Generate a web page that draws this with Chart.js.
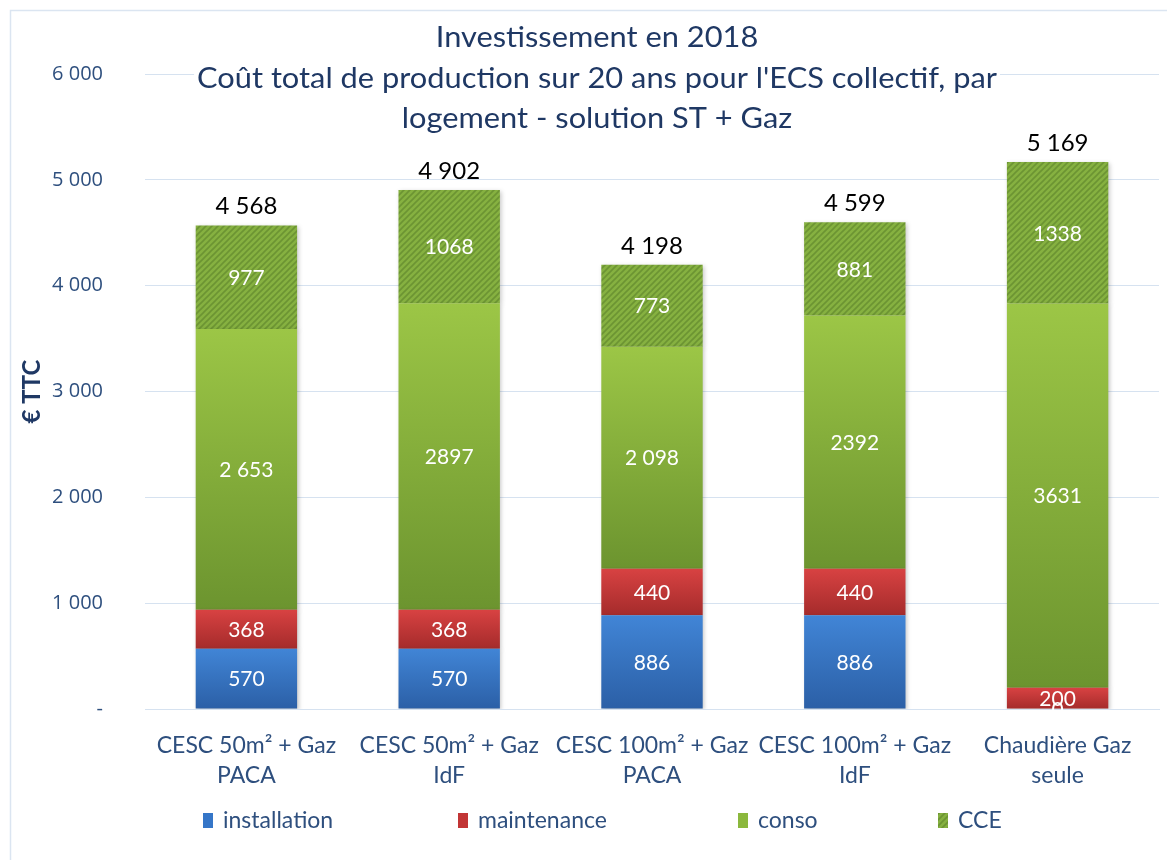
<!DOCTYPE html>
<html>
<head>
<meta charset="utf-8">
<script src="https://cdn.jsdelivr.net/npm/chart.js@4/dist/chart.umd.min.js"></script>
<style>
  html, body { margin: 0; padding: 0; background: #fff; }
  #wrap { position: relative; width: 1167px; height: 860px; }
</style>
</head>
<body>
<div id="wrap"><canvas id="costChart"></canvas></div>
<script>
// Data
const categories = [
    ['CESC 50m² + Gaz', 'PACA'],
    ['CESC 50m² + Gaz', 'IdF'],
    ['CESC 100m² + Gaz', 'PACA'],
    ['CESC 100m² + Gaz', 'IdF'],
    ['Chaudière Gaz', 'seule']
];
const installation = [570, 570, 886, 886, 0];
const maintenance = [368, 368, 440, 440, 200];
const conso = [2653, 2897, 2098, 2392, 3631];
const consoLabels = ['2 653', '2897', '2 098', '2392', '3631'];
const cce = [977, 1068, 773, 881, 1338];
const totals = [4568, 4902, 4198, 4599, 5169];
const yTicks = [0, 1000, 2000, 3000, 4000, 5000, 6000];
const titleLines = [
    'Investissement en 2018',
    "Coût total de production sur 20 ans pour l'ECS collectif, par",
    'logement - solution ST + Gaz'
];

const series = [installation, maintenance, conso, cce];
const navy = '#1f3864';
const axisBlue = '#2e4f7e';

function spaced(v) {
    return String(v).replace(/\B(?=(\d{3})+(?!\d))/g, ' ');
}

// vertical gradient over each stacked segment (light top -> dark bottom)
function segGradient(light, dark) {
    return (c) => {
        const chart = c.chart;
        const y = chart.scales.y;
        if (c.type !== 'data' || !chart.chartArea || !y) return dark;
        let start = 0;
        for (let s = 0; s < c.datasetIndex; s++) start += series[s][c.dataIndex];
        const end = start + series[c.datasetIndex][c.dataIndex];
        const y0 = y.getPixelForValue(start);
        const y1 = y.getPixelForValue(end);
        if (Math.abs(y0 - y1) < 1) return dark;
        const g = chart.ctx.createLinearGradient(0, y1, 0, y0);
        g.addColorStop(0, light);
        g.addColorStop(1, dark);
        return g;
    };
}

function hatchPattern() {
    const tile = document.createElement('canvas');
    tile.width = 6;
    tile.height = 6;
    const t = tile.getContext('2d');
    t.fillStyle = '#86b141';
    t.fillRect(0, 0, 6, 6);
    t.strokeStyle = '#6c9433';
    t.lineWidth = 1.6;
    t.beginPath();
    t.moveTo(-1, 7); t.lineTo(7, -1);
    t.moveTo(-4, 4); t.lineTo(4, -4);
    t.moveTo(2, 10); t.lineTo(10, 2);
    t.stroke();
    return t.createPattern(tile, 'repeat');
}
const cceFill = hatchPattern();

const legendSwatch = ['#3576c8', '#c23535', '#8bb83d', cceFill];
const legendX = [203, 458, 738, 938];

// frame + title box (title sits over the top gridline, with white behind it)
const framePlugin = {
    id: 'frame',
    beforeDraw(chart) {
        const ctx = chart.ctx;
        ctx.save();
        ctx.strokeStyle = '#dbe5f1';
        ctx.lineWidth = 1.5;
        ctx.strokeRect(10.5, 10.5, 1170, 870);
        ctx.restore();
    },
    beforeDatasetsDraw(chart) {
        const ctx = chart.ctx;
        const sx = 1.1;
        ctx.save();
        ctx.font = '28px Lato';
        const w = sx * Math.max(...titleLines.map(l => ctx.measureText(l).width));
        const cx = 597;
        ctx.fillStyle = '#fff';
        ctx.fillRect(cx - w / 2 - 3, 18, w + 6, 122);
        ctx.fillStyle = navy;
        ctx.textAlign = 'center';
        ctx.textBaseline = 'middle';
        titleLines.forEach((l, i) => {
            ctx.save();
            ctx.translate(cx, 38 + i * 40.5);
            ctx.scale(sx, 1);
            ctx.fillText(l, 0, 0);
            ctx.restore();
        });
        ctx.restore();
    }
};

// value labels inside segments and totals on top
const labelPlugin = {
    id: 'barLabels',
    afterDatasetsDraw(chart) {
        const ctx = chart.ctx;
        ctx.save();
        ctx.textAlign = 'center';
        ctx.textBaseline = 'middle';
        ctx.font = '21px Lato';
        ctx.fillStyle = '#fff';
        chart.data.datasets.forEach((ds, di) => {
            chart.getDatasetMeta(di).data.forEach((el, i) => {
                const txt = ds.valueLabels ? ds.valueLabels[i] : String(ds.data[i]);
                ctx.fillText(txt, el.x, (el.y + el.base) / 2 + 1);
            });
        });
        const top = chart.getDatasetMeta(chart.data.datasets.length - 1).data;
        ctx.fillStyle = '#000';
        ctx.font = '24px Lato';
        top.forEach((el, i) => ctx.fillText(spaced(totals[i]), el.x, el.y - 19));
        ctx.restore();
    }
};

// bottom legend, spaced like the original
const legendPlugin = {
    id: 'bottomLegend',
    afterDraw(chart) {
        const ctx = chart.ctx;
        ctx.save();
        ctx.font = '23px Lato';
        ctx.textBaseline = 'middle';
        const y = 821;
        chart.data.datasets.forEach((d, i) => {
            const x = legendX[i];
            ctx.fillStyle = legendSwatch[i];
            ctx.fillRect(x, y - 8, 10, 15);
            ctx.fillStyle = axisBlue;
            ctx.fillText(d.label, x + 20, y);
        });
        ctx.restore();
    }
};

// soft shadow under bars
const shadowPlugin = {
    id: 'barShadow',
    beforeDatasetDraw(chart) {
        const ctx = chart.ctx;
        ctx.save();
        ctx.shadowColor = 'rgba(0,0,0,0.22)';
        ctx.shadowBlur = 4;
        ctx.shadowOffsetX = 1.5;
        ctx.shadowOffsetY = 1.5;
    },
    afterDatasetDraw(chart) {
        chart.ctx.restore();
    }
};

document.addEventListener('DOMContentLoaded', () => {
    const ctx = document.getElementById('costChart').getContext('2d');

    new Chart(ctx, {
        type: 'bar',
        data: {
            labels: categories,
            datasets: [
                {
                    label: 'installation',
                    data: installation,
                    backgroundColor: segGradient('#4185d6', '#2b5fa6')
                },
                {
                    label: 'maintenance',
                    data: maintenance,
                    backgroundColor: segGradient('#d84242', '#a52b2b')
                },
                {
                    label: 'conso',
                    data: conso,
                    valueLabels: consoLabels,
                    backgroundColor: segGradient('#9cc646', '#6c942f')
                },
                {
                    label: 'CCE',
                    data: cce,
                    backgroundColor: cceFill
                }
            ]
        },
        options: {
            responsive: true,
            maintainAspectRatio: false,
            animation: false,
            layout: {
                padding: { top: 74, left: 16, right: 8, bottom: 60 }
            },
            datasets: {
                bar: {
                    barPercentage: 0.5,
                    categoryPercentage: 1,
                    borderWidth: 0
                }
            },
            plugins: {
                legend: { display: false },
                tooltip: { enabled: false },
                title: { display: false }
            },
            scales: {
                x: {
                    stacked: true,
                    grid: { display: false },
                    border: { color: '#d6e2f0' },
                    ticks: {
                        color: axisBlue,
                        font: { family: 'Lato', size: 23, lineHeight: 1.3 },
                        padding: 14,
                        maxRotation: 0,
                        autoSkip: false
                    },
                    afterFit(scale) { scale.height = 91; }
                },
                y: {
                    stacked: true,
                    min: 0,
                    max: 6000,
                    afterBuildTicks(scale) {
                        scale.ticks = yTicks.map(v => ({ value: v }));
                    },
                    grid: { color: '#d6e2f0', drawTicks: false },
                    border: { display: false },
                    ticks: {
                        color: axisBlue,
                        font: { family: 'Open Sans', size: 20 },
                        padding: 42,
                        callback: (v) => v === 0 ? '-' : spaced(v)
                    },
                    title: {
                        display: true,
                        text: '€ TTC',
                        color: navy,
                        font: { family: 'Lato', size: 24, weight: 'bold' },
                        padding: 2
                    },
                    afterFit(scale) { scale.width = 145 - 16; }
                }
            }
        },
        plugins: [framePlugin, shadowPlugin, labelPlugin, legendPlugin]
    });
});
</script>
</body>
</html>
